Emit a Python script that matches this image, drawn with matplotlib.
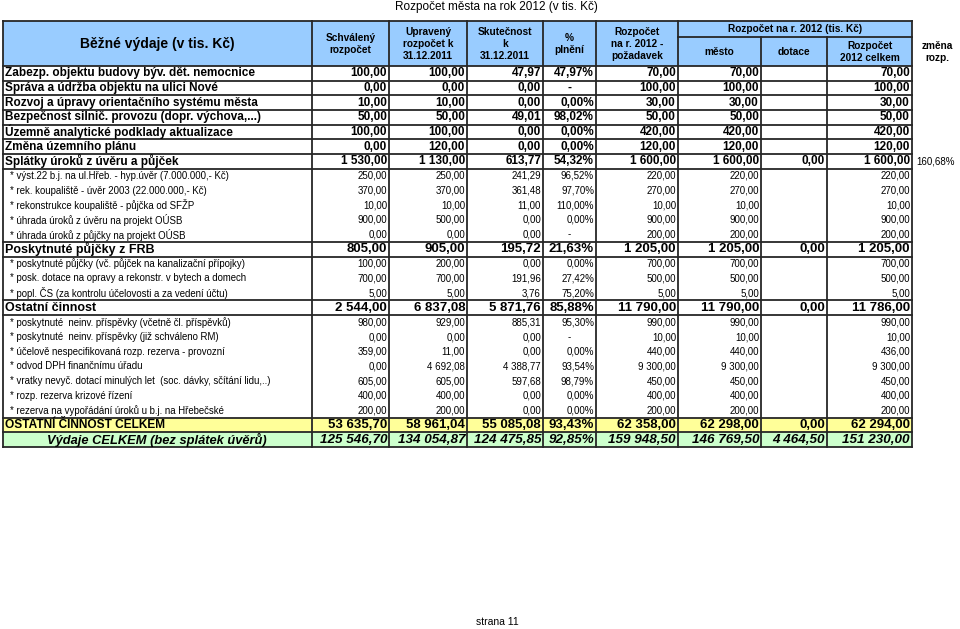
import matplotlib
matplotlib.use("Agg")
import matplotlib.pyplot as plt
from matplotlib.patches import Rectangle

plt.rcParams['font.family'] = ['Liberation Sans', 'DejaVu Sans']

labels = [
    "Zabezp. objektu budovy býv. dět. nemocnice",
    "Správa a údržba objektu na ulici Nové",
    "Rozvoj a úpravy orientačního systému města",
    "Bezpečnost silnič. provozu (dopr. výchova,...)",
    "Územně analytické podklady aktualizace",
    "Změna územního plánu",
    "Splátky úroků z úvěru a půjček",
    "* výst.22 b.j. na ul.Hřeb. - hyp.úvěr (7.000.000,- Kč)",
    "* rek. koupaliště - úvěr 2003 (22.000.000,- Kč)",
    "* rekonstrukce koupaliště - půjčka od SFŽP",
    "* úhrada úroků z úvěru na projekt OÚSB",
    "* úhrada úroků z půjčky na projekt OÚSB",
    "Poskytnuté půjčky z FRB",
    "* poskytnuté půjčky (vč. půjček na kanalizační přípojky)",
    "* posk. dotace na opravy a rekonstr. v bytech a domech",
    "* popl. ČS (za kontrolu účelovosti a za vedení účtu)",
    "Ostatní činnost",
    "* poskytnuté  neinv. příspěvky (včetně čl. příspěvků)",
    "* poskytnuté  neinv. příspěvky (již schváleno RM)",
    "* účelově nespecifikovaná rozp. rezerva - provozní",
    "* odvod DPH finančnímu úřadu",
    "* vratky nevyč. dotací minulých let  (soc. dávky, sčítání lidu,..)",
    "* rozp. rezerva krizové řízení",
    "* rezerva na vypořádání úroků u b.j. na Hřebečské",
    "OSTATNÍ ČINNOST CELKEM",
    "Výdaje CELKEM (bez splátek úvěrů)",
]
# row kinds: b = bold row, s = sub row, g = group row, y = yellow total, t = grand total
kinds = ["b"] * 7 + ["s"] * 5 + ["g"] + ["s"] * 3 + ["g"] + ["s"] * 7 + ["y", "t"]

schvaleny = [100, 0, 10, 50, 100, 0, 1530, 250, 370, 10, 900, 0, 805, 100, 700, 5,
             2544, 980, 0, 359, 0, 605, 400, 200, 53635.70, 125546.70]
upraveny = [100, 0, 10, 50, 100, 120, 1130, 250, 370, 10, 500, 0, 905, 200, 700, 5,
            6837.08, 929, 0, 11, 4692.08, 605, 400, 200, 58961.04, 134054.87]
skutecnost = [47.97, 0, 0, 49.01, 0, 0, 613.77, 241.29, 361.48, 11.00, 0, 0, 195.72, 0, 191.96, 3.76,
              5871.76, 885.31, 0, 0, 4388.77, 597.68, 0, 0, 55085.08, 124475.85]
plneni = [47.97, None, 0, 98.02, 0, 0, 54.32, 96.52, 97.70, 110.00, 0, None, 21.63, 0, 27.42, 75.20,
          85.88, 95.30, None, 0, 93.54, 98.79, 0, 0, 93.43, 92.85]
pozadavek = [70, 100, 30, 50, 420, 120, 1600, 220, 270, 10, 900, 200, 1205, 700, 500, 5,
             11790, 990, 10, 440, 9300, 450, 400, 200, 62358, 159948.50]
mesto = [70, 100, 30, 50, 420, 120, 1600, 220, 270, 10, 900, 200, 1205, 700, 500, 5,
         11790, 990, 10, 440, 9300, 450, 400, 200, 62298, 146769.50]
dotace = [None] * 6 + [0] + [None] * 5 + [0] + [None] * 3 + [0] + [None] * 7 + [0, 4464.50]
celkem = [70, 100, 30, 50, 420, 120, 1600, 220, 270, 10, 900, 200, 1205, 700, 500, 5,
          11786, 990, 10, 436, 9300, 450, 400, 200, 62294, 151230.00]
zmena = {6: "160,68%"}

header_cols = ["Schválený\nrozpočet", "Upravený\nrozpočet k\n31.12.2011", "Skutečnost\nk\n31.12.2011",
               "%\nplnění", "Rozpočet\nna r. 2012 -\npožadavek"]
sub_cols = ["město", "dotace", "Rozpočet\n2012 celkem"]


def fmt(v):
    if v is None:
        return ""
    return f"{v:,.2f}".replace(",", " ").replace(".", ",")


def fmt_pct(v):
    if v is None:
        return "-"
    return fmt(v) + "%"


col_edges = [3, 312, 389, 467, 543, 596, 678, 761, 827, 912]
head_top, head_bot, sub_line = 21, 66, 37
n = len(labels)
row_h = (447 - head_bot) / n
row_top = [head_bot + i * row_h for i in range(n + 1)]

fig = plt.figure(figsize=(9.6, 6.29), dpi=100)
ax = fig.add_axes([0, 0, 1, 1])
ax.set_xlim(0, 960)
ax.set_ylim(629, 0)
ax.axis("off")

lc = "#262626"
lw = 1.3

# fills
ax.add_patch(Rectangle((col_edges[0], head_top), col_edges[-1] - col_edges[0], head_bot - head_top,
                       facecolor="#99CCFF", edgecolor="none"))
fills = {"y": "#FFFF99", "t": "#CCFFCC"}
for i, k in enumerate(kinds):
    if k in fills:
        ax.add_patch(Rectangle((col_edges[0], row_top[i]), col_edges[-1] - col_edges[0], row_h,
                               facecolor=fills[k], edgecolor="none"))

ax.text(496, 7, "Rozpočet města na rok 2012 (v tis. Kč)", ha="center", va="center", fontsize=8.5)
ax.text((col_edges[0] + col_edges[1]) / 2, 44, "Běžné výdaje (v tis. Kč)", ha="center", va="center",
        fontsize=10, fontweight="bold")
for j, h in enumerate(header_cols):
    ax.text((col_edges[j + 1] + col_edges[j + 2]) / 2, 44, h, ha="center", va="center",
            fontsize=7.3, fontweight="bold", linespacing=1.3)
ax.text((col_edges[6] + col_edges[9]) / 2, 29, "Rozpočet na r. 2012 (tis. Kč)", ha="center", va="center",
        fontsize=7.3, fontweight="bold")
for j, h in enumerate(sub_cols):
    ax.text((col_edges[6 + j] + col_edges[7 + j]) / 2, 52, h, ha="center", va="center",
            fontsize=7.3, fontweight="bold", linespacing=1.3)
ax.text(937, 52, "změna\nrozp.", ha="center", va="center", fontsize=7.3, fontweight="bold", linespacing=1.3)

# header lines
ax.plot([col_edges[0], col_edges[-1]], [head_top, head_top], color=lc, lw=lw)
ax.plot([col_edges[6], col_edges[9]], [sub_line, sub_line], color=lc, lw=lw)
for j, x in enumerate(col_edges):
    top = sub_line if j in (7, 8) else head_top
    ax.plot([x, x], [top, row_top[-1]], color=lc, lw=lw)

# horizontal lines under header and around bold rows
hlines = {0}
for i, k in enumerate(kinds):
    if k != "s":
        hlines.add(i)
        hlines.add(i + 1)
for i in sorted(hlines):
    ax.plot([col_edges[0], col_edges[-1]], [row_top[i], row_top[i]], color=lc, lw=lw)

label_styles = {
    "b": dict(fontsize=8.5, fontweight="bold"),
    "s": dict(fontsize=6.9),
    "g": dict(fontsize=9, fontweight="bold"),
    "y": dict(fontsize=8.6, fontweight="bold"),
    "t": dict(fontsize=9.3, fontweight="bold", fontstyle="italic"),
}
num_styles = {
    "b": dict(fontsize=8.5, fontweight="bold"),
    "s": dict(fontsize=7),
    "g": dict(fontsize=9.5, fontweight="bold"),
    "y": dict(fontsize=9.5, fontweight="bold"),
    "t": dict(fontsize=9.7, fontweight="bold", fontstyle="italic"),
}

for i in range(n):
    y = row_top[i] + row_h / 2
    st = label_styles[kinds[i]]
    if kinds[i] == "t":
        ax.text(157, y, labels[i], ha="center", va="center", **st)
    elif kinds[i] == "s":
        ax.text(10, y, labels[i], ha="left", va="center", **st)
    else:
        ax.text(5, y, labels[i], ha="left", va="center", **st)
    st = num_styles[kinds[i]]
    vals = [fmt(schvaleny[i]), fmt(upraveny[i]), fmt(skutecnost[i]), fmt_pct(plneni[i]),
            fmt(pozadavek[i]), fmt(mesto[i]), fmt(dotace[i]), fmt(celkem[i])]
    for j, s in enumerate(vals):
        if s == "-":
            ax.text((col_edges[j + 1] + col_edges[j + 2]) / 2, y, s, ha="center", va="center", **st)
        else:
            ax.text(col_edges[j + 2] - 2, y, s, ha="right", va="center", **st)
    if i in zmena:
        ax.text(916, y, zmena[i], ha="left", va="center", fontsize=7)

ax.text(497, 622, "strana 11", ha="center", va="center", fontsize=7.5)

plt.savefig("out.png", dpi=100)
